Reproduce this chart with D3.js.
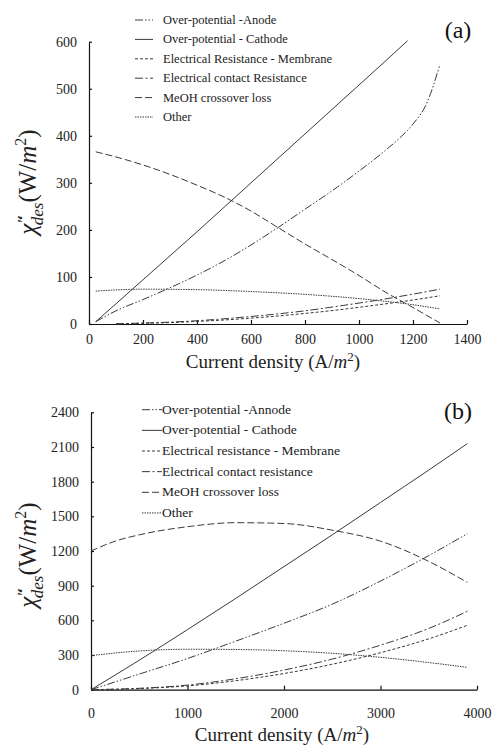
<!DOCTYPE html>
<meta charset="utf-8">
<style>
body { margin: 0; background: #fff; }
svg text { font-family: "Liberation Serif", "Times New Roman", serif !important; fill: #222; }
.axis path, .axis line { stroke: #111; stroke-width: 1.2; }
.axis text { font-size: 14px; fill: #222; }
.series { fill: none; stroke: #3a3a3a; stroke-width: 1; }
</style>
<script src="https://d3js.org/d3.v7.min.js"></script>
<body>
<script>

// ---- panel (a) ----
var legendA = ["Over-potential -Anode", "Over-potential - Cathode", "Electrical Resistance - Membrane",
  "Electrical contact Resistance", "MeOH crossover loss", "Other"];
var anodeA_x = [25, 100, 200, 300, 400, 500, 600, 700, 800, 900, 1000, 1100, 1150, 1200, 1250, 1300];
var anodeA_y = [5, 28, 52, 77, 104, 134, 168, 205, 244, 283, 325, 370, 395, 425, 468, 552];
var cathodeA_x = [25, 100, 200, 300, 400, 500, 600, 700, 800, 900, 1000, 1100, 1180];
var cathodeA_y = [5, 43, 94, 145, 196, 248, 300, 352, 404, 456, 508, 560, 602];
var membraneA_x = [100, 200, 300, 400, 500, 600, 700, 800, 900, 1000, 1100, 1200, 1300];
var membraneA_y = [0.5, 1.5, 3, 5.5, 8.5, 12.5, 17, 22.5, 28.5, 35.5, 43, 51, 60];
var contactA_x = [100, 200, 300, 400, 500, 600, 700, 800, 900, 1000, 1100, 1200, 1300];
var contactA_y = [0.5, 2, 4, 7, 11, 16, 21.5, 28, 36, 44.5, 53.5, 63.5, 74];
var meohA_x = [25, 100, 200, 300, 400, 500, 600, 700, 800, 900, 1000, 1100, 1200, 1300];
var meohA_y = [366, 355, 338, 318, 295, 270, 240, 205, 170, 137, 103, 67, 35, 2];
var otherA_x = [25, 200, 400, 600, 800, 1000, 1100, 1200, 1300];
var otherA_y = [70, 74, 73, 69, 63, 54, 48, 41, 32];
var xTicksA = [0, 200, 400, 600, 800, 1000, 1200, 1400];
var yTicksA = [0, 100, 200, 300, 400, 500, 600];

// ---- panel (b) ----
var legendB = ["Over-potential -Annode", "Over-potential - Cathode", "Electrical resistance - Membrane",
  "Electrical contact resistance", "MeOH crossover loss", "Other"];
var xB = [0, 500, 1000, 1500, 2000, 2500, 3000, 3500, 3900];
var anodeB_y = [0, 135, 270, 420, 575, 740, 940, 1160, 1350];
var cathodeB_y = [0, 255, 520, 790, 1065, 1340, 1620, 1900, 2129];
var membraneB_y = [0, 10, 33, 78, 140, 220, 320, 440, 557];
var contactB_y = [0, 12, 40, 95, 170, 265, 385, 530, 678];
var meohB_x = [0, 250, 500, 1000, 1500, 2000, 2500, 3000, 3500, 3900];
var meohB_y = [1200, 1285, 1340, 1410, 1445, 1438, 1380, 1285, 1110, 928];
var otherB_y = [295, 335, 350, 348, 337, 315, 280, 235, 193];
var xTicksB = [0, 1000, 2000, 3000, 4000];
var yTicksB = [0, 300, 600, 900, 1200, 1500, 1800, 2100, 2400];

// dash styles: anode, cathode, membrane, contact, meoh, other
var dashes = ["8,2,1.5,2,1.5,2", null, "3,2", "8,2.5,2,2.5", "7,3", "1.5,1"];
var serif = '"Liberation Serif", "Times New Roman", serif';

function zip(xs, ys) { return xs.map(function(v, i) { return [v, ys[i]]; }); }

var svg = d3.select("body").append("svg").attr("width", 493).attr("height", 746)
  .style("font-family", serif);

function panel(cfg) {
  var x = d3.scaleLinear().domain(cfg.xDomain).range([cfg.left, cfg.right]);
  var y = d3.scaleLinear().domain(cfg.yDomain).range([cfg.bottom, cfg.top]);
  var g = svg.append("g");

  g.append("g").attr("class", "axis")
    .attr("transform", "translate(0," + cfg.bottom + ")")
    .call(d3.axisBottom(x).tickValues(cfg.xTicks).tickFormat(d3.format("d"))
      .tickSizeInner(-4).tickSizeOuter(0).tickPadding(cfg.xPad))
    .attr("font-family", serif);
  g.append("g").attr("class", "axis")
    .attr("transform", "translate(" + cfg.left + ",0)")
    .call(d3.axisLeft(y).tickValues(cfg.yTicks)
      .tickFormat(d3.format("d")).tickSizeInner(-3).tickSizeOuter(0).tickPadding(12))
    .attr("font-family", serif);

  var line = d3.line().curve(d3.curveMonotoneX)
    .x(function(d) { return x(d[0]); }).y(function(d) { return y(d[1]); });

  cfg.series.forEach(function(s, i) {
    g.append("path").attr("class", "series").attr("d", line(s))
      .attr("stroke-dasharray", dashes[i]);
  });

  // legend
  cfg.legend.forEach(function(name, i) {
    var yy = cfg.legY + i * cfg.legStep;
    g.append("line").attr("class", "series")
      .attr("x1", cfg.legX0).attr("x2", cfg.legX1).attr("y1", yy).attr("y2", yy)
      .attr("stroke-dasharray", dashes[i]);
    g.append("text").attr("x", cfg.legTx).attr("y", yy + 4)
      .style("font-size", cfg.legFont + "px").text(name);
  });

  g.append("text").attr("x", 458).attr("y", cfg.labelY).attr("text-anchor", "middle")
    .style("font-size", "24px").style("fill", "#111").text(cfg.label);

  // x title
  var xt = g.append("text").attr("x", cfg.xTitleX).attr("y", cfg.xTitleY)
    .attr("text-anchor", "middle").style("font-size", "19px");
  xt.append("tspan").text("Current density (A/");
  xt.append("tspan").style("font-style", "italic").text("m");
  xt.append("tspan").attr("dy", -7).style("font-size", "13px").text("2");
  xt.append("tspan").attr("dy", 7).text(")");

  // y title
  var yt = g.append("text")
    .attr("transform", "translate(" + cfg.yTitleX + "," + cfg.yTitleY + ") rotate(-90)")
    .attr("text-anchor", "middle").style("font-size", "25px");
  yt.append("tspan").style("font-style", "italic").text("\u03C7\u0307");
  yt.append("tspan").attr("dy", -7).style("font-size", "17px").style("font-style", "italic").text("\u2032\u2032");
  yt.append("tspan").attr("dx", -9).attr("dy", 14).style("font-size", "17px").style("font-style", "italic").text("des");
  yt.append("tspan").attr("dy", -7).text("(W/");
  yt.append("tspan").style("font-style", "italic").text("m");
  yt.append("tspan").attr("dy", -10).style("font-size", "16px").text("2");
  yt.append("tspan").attr("dy", 10).text(")");
}

panel({
  xDomain: [0, 1400], yDomain: [0, 600], left: 89, right: 467, top: 41.7, bottom: 324,
  xTicks: xTicksA, yTicks: yTicksA, xPad: 10,
  series: [zip(anodeA_x, anodeA_y), zip(cathodeA_x, cathodeA_y), zip(membraneA_x, membraneA_y),
    zip(contactA_x, contactA_y), zip(meohA_x, meohA_y), zip(otherA_x, otherA_y)],
  legend: legendA, legY: 20, legStep: 19.4, legX0: 135, legX1: 153, legTx: 163, legFont: 12.5,
  label: "(a)", labelY: 38,
  xTitleX: 273, xTitleY: 368, yTitleX: 36, yTitleY: 182
});

panel({
  xDomain: [0, 4000], yDomain: [0, 2400], left: 91, right: 477, top: 412.3, bottom: 689.7,
  xTicks: xTicksB, yTicks: yTicksB, xPad: 18,
  series: [zip(xB, anodeB_y), zip(xB, cathodeB_y), zip(xB, membraneB_y),
    zip(xB, contactB_y), zip(meohB_x, meohB_y), zip(xB, otherB_y)],
  legend: legendB, legY: 409.7, legStep: 20.65, legX0: 142, legX1: 162, legTx: 162, legFont: 13.5,
  label: "(b)", labelY: 419,
  xTitleX: 282, xTitleY: 741, yTitleX: 36, yTitleY: 555
});

</script>
</body>
